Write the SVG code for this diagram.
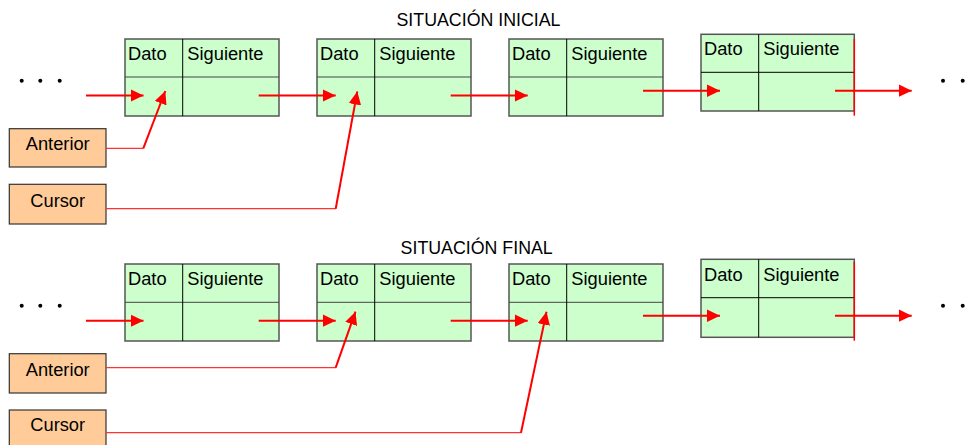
<svg xmlns="http://www.w3.org/2000/svg" width="977" height="445" viewBox="0 0 977 445">
<style>
.cell{fill:#CCFFCC;stroke:#555;stroke-width:1.5}
.div{stroke:#000;stroke-width:1;fill:none}
.hdiv{stroke:#444;stroke-width:1;fill:none}
.ptr{fill:#FFCC99;stroke:#333;stroke-width:1.2}
.t{font-family:"Liberation Sans",Arial,sans-serif;font-size:18.3px;fill:#000}
.title{font-family:"Liberation Sans",Arial,sans-serif;font-size:17.8px;fill:#000;text-anchor:middle}
.c{text-anchor:middle}
.arr{stroke:#FF0000;stroke-width:2;fill:none;marker-end:url(#ah)}
.thin{stroke:#FF3333;stroke-width:1.2;fill:none}
.edge{stroke:#FF0000;stroke-width:1.5;fill:none}
.dot{fill:#000}
</style>
<defs>
<marker id="ah" markerUnits="userSpaceOnUse" markerWidth="14" markerHeight="13" refX="13" refY="6.25" orient="auto">
<path d="M0,0 L13,6.25 L0,12.5 z" fill="#FF0000"/>
</marker>
</defs>

<text class="title" x="478.5" y="26">SITUACIÓN INICIAL</text>
<text class="title" x="476.7" y="254">SITUACIÓN FINAL</text>

<g id="dots">
<circle class="dot" cx="21.7" cy="80.7" r="2"/><circle class="dot" cx="40.3" cy="80.7" r="2"/><circle class="dot" cx="59.7" cy="80.7" r="2"/>
<circle class="dot" cx="943" cy="80.7" r="2"/><circle class="dot" cx="962.7" cy="80.7" r="2"/>
<circle class="dot" cx="21.7" cy="305.7" r="2"/><circle class="dot" cx="40.3" cy="305.7" r="2"/><circle class="dot" cx="59.7" cy="305.7" r="2"/>
<circle class="dot" cx="943" cy="305.7" r="2"/><circle class="dot" cx="962.7" cy="305.7" r="2"/>
</g>

<g id="top-node1">
<rect class="cell" x="125" y="39" width="154" height="77"/>
<line class="hdiv" x1="125" y1="77" x2="279" y2="77"/>
<line class="div" x1="182.7" y1="39" x2="182.7" y2="116"/>
<text class="t" x="128" y="60">Dato</text><text class="t" x="187.3" y="60">Siguiente</text>
</g>
<g id="top-node2">
<rect class="cell" x="317" y="39" width="154" height="77"/>
<line class="hdiv" x1="317" y1="77" x2="471" y2="77"/>
<line class="div" x1="374.7" y1="39" x2="374.7" y2="116"/>
<text class="t" x="320" y="60">Dato</text><text class="t" x="379.3" y="60">Siguiente</text>
</g>
<g id="top-node3">
<rect class="cell" x="509" y="39" width="154" height="77"/>
<line class="hdiv" x1="509" y1="77" x2="663" y2="77"/>
<line class="div" x1="566.7" y1="39" x2="566.7" y2="116"/>
<text class="t" x="512" y="60">Dato</text><text class="t" x="571.3" y="60">Siguiente</text>
</g>
<g id="top-node4">
<rect class="cell" x="701" y="34.3" width="153.3" height="76.7"/>
<line class="div" x1="701" y1="72.3" x2="854.3" y2="72.3"/>
<line class="div" x1="758.7" y1="34.3" x2="758.7" y2="111"/>
<text class="t" x="704" y="55">Dato</text><text class="t" x="763.3" y="55">Siguiente</text>
</g>

<g id="bot-node1">
<rect class="cell" x="125" y="264" width="154" height="77"/>
<line class="hdiv" x1="125" y1="302.3" x2="279" y2="302.3"/>
<line class="div" x1="182.7" y1="264" x2="182.7" y2="341"/>
<text class="t" x="128" y="285">Dato</text><text class="t" x="187.3" y="285">Siguiente</text>
</g>
<g id="bot-node2">
<rect class="cell" x="317" y="264" width="154" height="77"/>
<line class="hdiv" x1="317" y1="302.3" x2="471" y2="302.3"/>
<line class="div" x1="374.7" y1="264" x2="374.7" y2="341"/>
<text class="t" x="320" y="285">Dato</text><text class="t" x="379.3" y="285">Siguiente</text>
</g>
<g id="bot-node3">
<rect class="cell" x="509" y="264" width="154" height="77"/>
<line class="hdiv" x1="509" y1="302.3" x2="663" y2="302.3"/>
<line class="div" x1="566.7" y1="264" x2="566.7" y2="341"/>
<text class="t" x="512" y="285">Dato</text><text class="t" x="571.3" y="285">Siguiente</text>
</g>
<g id="bot-node4">
<rect class="cell" x="701" y="259.3" width="153.3" height="78"/>
<line class="div" x1="701" y1="297.7" x2="854.3" y2="297.7"/>
<line class="div" x1="758.7" y1="259.3" x2="758.7" y2="337.3"/>
<text class="t" x="704" y="280.5">Dato</text><text class="t" x="763.3" y="280.5">Siguiente</text>
</g>

<g id="top-anterior">
<rect class="ptr" x="9.3" y="128.7" width="96.7" height="38.3"/>
<text class="t c" x="57.7" y="149.5">Anterior</text>
</g>
<g id="top-cursor">
<rect class="ptr" x="9.3" y="184.3" width="96.7" height="39.7"/>
<text class="t c" x="57.7" y="206.5">Cursor</text>
</g>
<g id="bot-anterior">
<rect class="ptr" x="9.3" y="353.7" width="96.7" height="39.3"/>
<text class="t c" x="57.7" y="375.5">Anterior</text>
</g>
<g id="bot-cursor">
<rect class="ptr" x="9.3" y="410" width="96.7" height="40"/>
<text class="t c" x="57.7" y="431">Cursor</text>
</g>

<g id="connectors">
<line class="edge" x1="854.3" y1="39" x2="854.3" y2="115.7"/>
<line class="edge" x1="854.3" y1="261.7" x2="854.3" y2="340.7"/>

<line class="arr" x1="86" y1="95.5" x2="143.5" y2="95.5"/>
<line class="arr" x1="258.7" y1="95.5" x2="335.7" y2="95.5"/>
<line class="arr" x1="450.7" y1="95.5" x2="527.7" y2="95.5"/>
<line class="arr" x1="643" y1="90.7" x2="720" y2="90.7"/>
<line class="arr" x1="835" y1="90.7" x2="911.7" y2="90.7"/>

<line class="thin" x1="106" y1="148.3" x2="143.5" y2="148.3"/>
<line class="arr" x1="143.3" y1="148.3" x2="165.3" y2="91"/>
<line class="thin" x1="106" y1="208.7" x2="336" y2="208.7"/>
<line class="arr" x1="335.7" y1="208.7" x2="357.3" y2="91.5"/>

<line class="arr" x1="86" y1="320.7" x2="143.5" y2="320.7"/>
<line class="arr" x1="258.7" y1="320.7" x2="335.7" y2="320.7"/>
<line class="arr" x1="450.7" y1="320.7" x2="527.7" y2="320.7"/>
<line class="arr" x1="643" y1="315.7" x2="720" y2="315.7"/>
<line class="arr" x1="835" y1="315.7" x2="911.7" y2="315.7"/>

<line class="thin" x1="106" y1="367.7" x2="336" y2="367.7"/>
<line class="arr" x1="335.7" y1="367.7" x2="355.5" y2="311.7"/>
<line class="thin" x1="106" y1="432.7" x2="521.3" y2="432.7"/>
<line class="arr" x1="521" y1="432.7" x2="546.5" y2="311.7"/>
</g>
</svg>
